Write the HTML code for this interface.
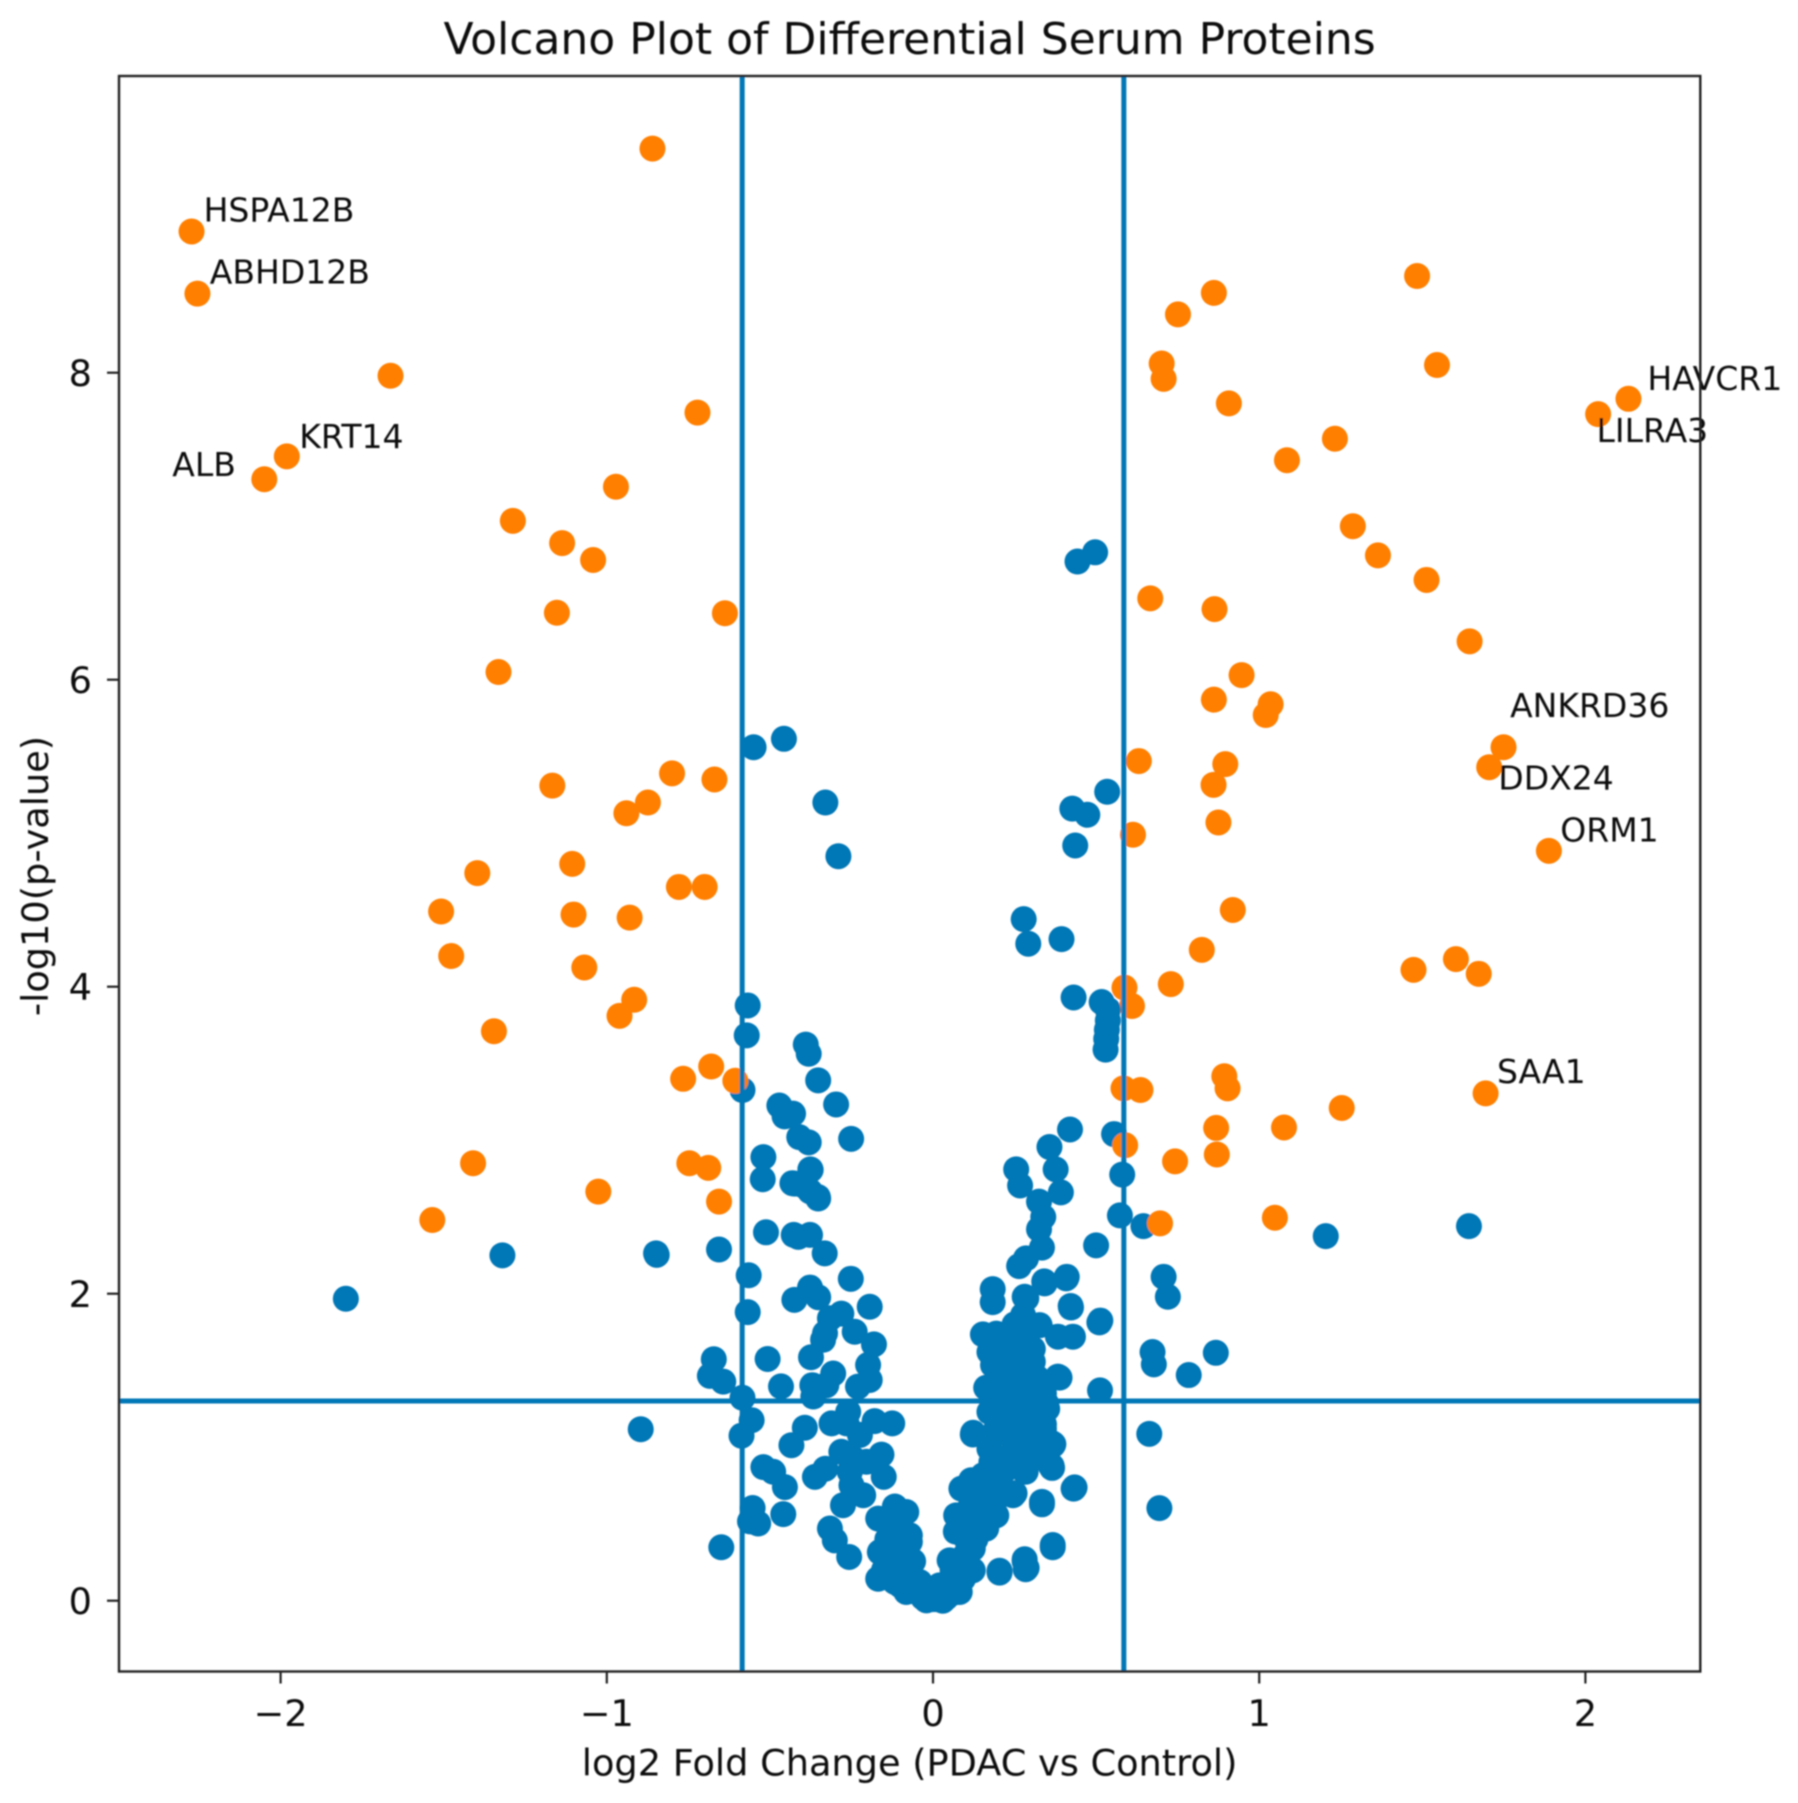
<!DOCTYPE html>
<html lang="en">
<head>
<meta charset="utf-8">
<title>Volcano Plot of Differential Serum Proteins</title>
<style>
  html, body { margin: 0; padding: 0; background: #fff; }
  #chart { display: block; width: 1798px; height: 1803px; }
  text { font-family: "DejaVu Sans", "Liberation Sans", sans-serif; fill: #111; }
</style>
</head>
<body>
<svg id="chart" xmlns="http://www.w3.org/2000/svg" width="1798" height="1803" viewBox="0 0 1798 1803">
  <defs>
    <filter id="soft" x="-2%" y="-2%" width="104%" height="104%"><feGaussianBlur stdDeviation="0.9"/></filter>
  </defs>
  <rect width="1798" height="1803" fill="#fff"/>
  <g id="root" filter="url(#soft)"></g>
</svg>
<script>
const xTicks = [-2, -1, 0, 1, 2];
const yTicks = [0, 2, 4, 6, 8];
const xDomain = [-2.4954, 2.3522];
const yDomain = [-0.4612, 9.933];
const foldThresholds = [-0.585, 0.585];
const pThreshold = [1.301];

const neutralX = [-0.55,-0.457,-0.33,-0.29,0.497,0.443,0.534,0.427,0.473,0.436,0.278,0.292,0.394,0.431,0.536,0.533,0.531,0.529,0.42,0.555,0.357,0.255,0.376,0.267,0.392,0.325,0.338,0.58,0.573,0.645,0.5,0.325,0.334,0.285,0.264,0.41,0.341,0.183,0.183,0.281,0.422,0.707,0.72,0.513,1.204,1.643,0.673,0.677,0.867,0.784,0.512,0.663,0.694,0.434,0.367,0.281,0.287,0.204,0.334,0.25,0.281,0.364,0.369,0.123,
0.153,0.194,0.286,0.342,0.408,0.423,0.51,0.429,0.383,0.327,0.276,0.286,0.235,0.306,0.173,0.306,0.184,0.245,0.235,0.388,0.163,0.204,0.255,0.214,0.306,0.327,0.347,0.173,0.255,0.327,0.204,0.316,0.194,0.367,0.365,0.284,0.122,0.235,0.306,0.286,0.173,0.286,0.179,
0.087,0.117,0.153,0.204,0.245,0.143,0.194,0.071,0.112,0.153,0.194,0.122,0.163,0.102,0.122,0.051,0.092,0.122,0.082,0.092,0.051,0.02,0,-0.02,0.03,-0.05,0.204,0.281,0.284,0.367,0.334,0.431,
-0.168,-0.163,-0.117,-0.082,-0.092,-0.061,-0.071,-0.112,-0.117,-0.082,-0.168,-0.122,-0.071,-0.133,-0.092,-0.041,-0.316,-0.301,-0.257,-0.276,-0.214,-0.25,-0.151,-0.255,-0.362,-0.33,-0.281,-0.245,-0.158,-0.204,-0.434,-0.393,-0.311,-0.265,-0.224,-0.179,-0.125,-0.26,
-0.52,-0.49,-0.454,-0.459,-0.553,-0.561,-0.536,-0.649,-0.556,-0.587,-0.584,-0.643,-0.684,-0.672,-0.507,-0.466,-0.374,-0.37,-0.367,-0.327,-0.306,-0.23,-0.194,-0.199,-0.181,-0.24,-0.281,-0.316,-0.331,-0.337,-0.194,-0.252,-0.425,-0.377,-0.352,-0.568,-0.565,
-0.512,-0.427,-0.413,-0.377,-0.332,-0.656,-0.847,-0.522,-0.52,-0.424,-0.375,-0.377,-0.352,-1.32,-1.8,-0.849,-0.896,-0.568,-0.571,-0.584,-0.39,-0.381,-0.352,-0.297,-0.251,-0.471,-0.429,-0.455,-0.41,-0.381,-0.376,-0.431,-0.397,-0.353,
-0.1,-0.08,-0.06,-0.04,-0.03,0.01,0.04,0.06,0.07,0.09,0.06,0.03,-0.02,0.02,0,0.14,0.1,0.13,0.17,0.12,0.1,0.15,0.07,0.2,-0.1,-0.1,-0.14,-0.08,-0.13,-0.15,-0.1,0.2,0.22,0.28,0.27,0.25,0.3,0.32,0.22,0.28,0.25,0.3,0.34,0.24,0.22,
0.34,0.35,0.33,0.34,0.33,0.364,0.36,0.383];
const neutralY = [5.56,5.615,5.2,4.85,6.83,6.77,5.27,5.16,5.12,4.92,4.44,4.28,4.31,3.93,3.78,3.72,3.66,3.59,3.07,3.04,2.956,2.81,2.81,2.705,2.66,2.6,2.5,2.776,2.51,2.44,2.315,2.42,2.3,2.23,2.18,2.11,2.08,2.03,1.945,1.98,1.92,2.11,1.98,1.825,2.375,2.44,1.62,1.54,1.615,1.47,1.37,1.087,0.603,0.738,0.363,0.27,0.214,0.195,0.644,0.7,0.843,0.877,1.02,1.094,
1.735,1.74,1.97,2.067,2.1,1.91,1.813,1.72,1.72,1.795,1.86,1.75,1.71,1.64,1.62,1.557,1.535,1.58,1.51,1.453,1.387,1.448,1.404,1.35,1.426,1.36,1.285,1.23,1.307,1.23,1.187,1.165,1.12,1.013,0.865,0.84,1.083,1.08,1.1,1.035,0.99,0.948,0.904,
0.73,0.785,0.817,0.785,0.687,0.687,0.665,0.556,0.6,0.578,0.556,0.49,0.47,0.404,0.34,0.263,0.252,0.198,0.057,0.143,0.1,0.035,0.01,0.002,0,0.057,0.183,0.257,0.205,0.348,0.628,0.73,
0.143,0.317,0.122,0.057,0.165,0.257,0.383,0.317,0.614,0.578,0.535,0.535,0.426,0.47,0.426,0.122,0.47,0.393,0.285,0.622,0.687,0.752,0.807,0.84,0.807,0.86,0.97,0.926,0.952,0.905,1.013,1.127,1.155,1.155,1.08,1.17,1.155,1.23,
0.87,0.84,0.74,0.564,0.604,0.517,0.503,0.348,1.176,1.075,1.322,1.427,1.465,1.573,1.575,1.396,1.586,1.404,1.33,1.404,1.48,1.395,1.438,1.536,1.67,1.752,1.87,1.84,1.742,1.7,1.915,2.097,1.96,2.04,1.977,1.88,2.12,
2.4,2.383,2.37,2.383,2.263,2.288,2.253,2.746,2.89,2.717,2.807,2.667,2.62,2.25,1.967,2.263,1.117,3.878,3.683,3.327,3.623,3.563,3.39,3.233,3.009,3.226,3.173,3.155,3.02,2.986,2.81,2.72,2.705,2.63,
0.2,0.12,0.07,0.05,0.02,0.01,0.02,0.05,0.1,0.17,0.2,0.08,0.08,0.1,0.06,0.6,0.5,0.4,0.65,0.7,0.3,0.75,0.45,0.7,0.45,0.55,0.4,0.3,0.25,0.2,0.1,1.3,1.5,1.25,1.45,1.2,1.3,1.45,1.65,1.65,1.8,1.55,1.15,0.95,0.85,
1.35,1.25,1.05,1.12,0.95,1.027,0.883,1.46];

const significantX = [-0.86,-2.273,-2.255,-1.663,-0.722,-1.981,-2.05,-0.972,-1.288,-1.137,-1.042,-1.153,-0.638,-1.332,-1.167,-0.8,-0.874,-0.94,-0.67,-1.106,-1.397,-0.779,-0.7,-1.508,-1.102,-0.93,-1.477,-1.069,-0.916,-0.961,-1.346,-0.68,-0.766,-0.606,-1.41,-0.747,-0.689,-1.026,-0.656,-1.535,
1.484,0.861,0.751,0.701,0.707,1.545,0.907,2.132,2.039,1.232,1.085,1.287,1.364,1.513,0.666,0.863,1.645,0.946,0.861,1.035,1.02,1.749,1.705,0.631,0.896,0.86,0.875,1.888,0.613,0.919,0.824,1.473,1.603,1.673,0.729,0.587,0.61,0.893,0.903,0.584,0.636,1.694,1.253,1.076,0.868,0.589,0.87,0.742,1.048,0.696];
const significantY = [9.46,8.92,8.515,7.98,7.74,7.455,7.306,7.257,7.035,6.89,6.78,6.436,6.433,6.05,5.31,5.39,5.2,5.13,5.35,4.8,4.74,4.65,4.65,4.49,4.47,4.45,4.2,4.125,3.915,3.81,3.71,3.48,3.4,3.387,2.85,2.85,2.82,2.665,2.6,2.48,
8.63,8.52,8.38,8.06,7.96,8.05,7.8,7.83,7.73,7.57,7.43,7.0,6.81,6.65,6.53,6.46,6.25,6.03,5.87,5.84,5.77,5.56,5.43,5.47,5.45,5.315,5.07,4.885,4.99,4.5,4.24,4.11,4.18,4.084,4.017,3.994,3.874,3.417,3.338,3.338,3.327,3.305,3.21,3.083,3.08,2.967,2.907,2.862,2.495,2.458];

const overlapX = [0.517, 0.536];
const overlapY = [3.9, 3.85];

const labelNames = ["HSPA12B","ABHD12B","KRT14","ALB","HAVCR1","LILRA3","ANKRD36","DDX24","ORM1","SAA1"];
const labelX = [-2.236,-2.217,-1.943,-2.332,2.19,2.034,1.769,1.733,1.923,1.729];
const labelY = [8.986,8.581,7.51,7.328,7.889,7.55,5.757,5.285,4.945,3.374];

const plotLeft = 119, plotRight = 1700.3, plotTop = 76, plotBottom = 1671.5;
const sx = v => plotLeft + (v - xDomain[0]) / (xDomain[1] - xDomain[0]) * (plotRight - plotLeft);
const sy = v => plotBottom - (v - yDomain[0]) / (yDomain[1] - yDomain[0]) * (plotBottom - plotTop);

const NS = "http://www.w3.org/2000/svg";
const root = document.getElementById("root");
function make(tag, attrs, parent) {
  const el = document.createElementNS(NS, tag);
  for (const k in attrs) el.setAttribute(k, attrs[k]);
  (parent || root).appendChild(el);
  return el;
}
function drawPoints(xs, ys, color, name) {
  const g = make("g", { fill: color });
  
  
  xs.forEach((v, i) => {
    const c = make("circle", { cx: sx(v).toFixed(2), cy: sy(ys[i]).toFixed(2), r: 13 }, g);
    
    
  });
}

drawPoints(neutralX, neutralY, "#0077b6", "not-significant");
drawPoints(significantX, significantY, "#ff7f00", "significant");
drawPoints(overlapX, overlapY, "#0077b6", "not-significant-overlap");

foldThresholds.forEach(v => {
  const l = make("line", { x1: sx(v), x2: sx(v), y1: plotTop, y2: plotBottom, stroke: "#0077b6", "stroke-width": 5 });
  
  
});
pThreshold.forEach(v => {
  const l = make("line", { x1: plotLeft, x2: plotRight, y1: sy(v), y2: sy(v), stroke: "#0077b6", "stroke-width": 5 });
  
  
});

labelNames.forEach((t, i) => {
  const el = make("text", { x: sx(labelX[i]).toFixed(1), y: sy(labelY[i]).toFixed(1), "font-size": 33 });
  el.textContent = t;
  
  
});

const frame = make("rect", { x: plotLeft, y: plotTop, width: plotRight - plotLeft, height: plotBottom - plotTop, fill: "none", stroke: "#222", "stroke-width": 2.4 });



xTicks.forEach(v => {
  const t = make("line", { x1: sx(v), x2: sx(v), y1: plotBottom, y2: plotBottom + 12, stroke: "#222", "stroke-width": 2.2 });
  
  
  const el = make("text", { x: sx(v), y: 1726, "font-size": 36.7, "text-anchor": "middle" });
  el.textContent = v < 0 ? "\u2212" + Math.abs(v) : String(v);
  
  
});
yTicks.forEach(v => {
  const t = make("line", { x1: plotLeft - 12, x2: plotLeft, y1: sy(v), y2: sy(v), stroke: "#222", "stroke-width": 2.2 });
  
  
  const el = make("text", { x: 92, y: sy(v) + 13.4, "font-size": 36.7, "text-anchor": "end" });
  el.textContent = String(v);
  
  
});

const title = make("text", { x: 909.6, y: 54, "font-size": 44, "text-anchor": "middle" });
title.textContent = "Volcano Plot of Differential Serum Proteins";



const xTitle = make("text", { x: 909.6, y: 1775.5, "font-size": 36.7, "text-anchor": "middle" });
xTitle.textContent = "log2 Fold Change (PDAC vs Control)";



const yTitle = make("text", { x: 0, y: 0, "font-size": 36.7, "text-anchor": "middle", transform: "translate(48 876) rotate(-90)" });
yTitle.textContent = "-log10(p-value)";


</script>
</body>
</html>
